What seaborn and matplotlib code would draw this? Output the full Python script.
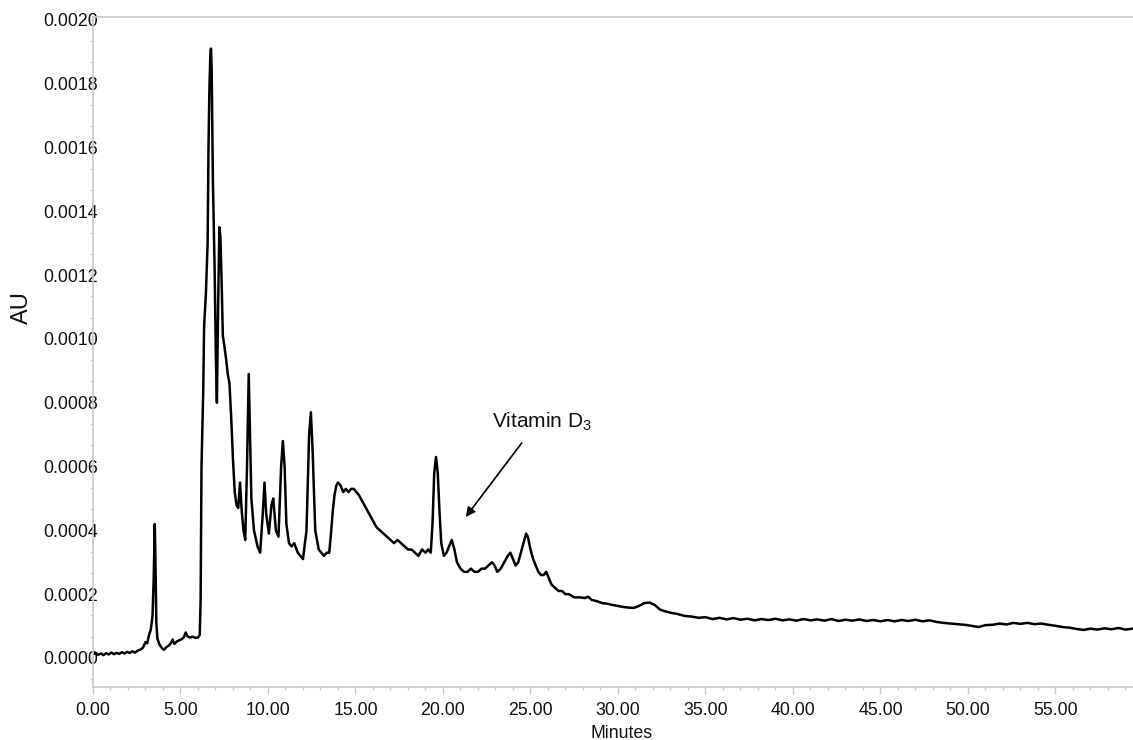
import matplotlib
matplotlib.use("Agg")
import matplotlib.pyplot as plt
from matplotlib.ticker import MultipleLocator, FormatStrFormatter
import seaborn as sns
import pandas as pd

# Retention time (minutes), ten samples per row
minutes = [
    0.0, 0.15, 0.3, 0.45, 0.6, 0.75, 0.9, 1.05, 1.2, 1.35,
    1.5, 1.65, 1.8, 1.95, 2.1, 2.25, 2.4, 2.55, 2.7, 2.85,
    3.0, 3.1, 3.2, 3.3, 3.4, 3.47, 3.53, 3.57, 3.62, 3.68,
    3.8, 3.95, 4.05, 4.2, 4.35, 4.45, 4.55, 4.65, 4.8, 4.95,
    5.1, 5.2, 5.3, 5.4, 5.55, 5.7, 5.85, 6.0, 6.1, 6.15,
    6.2, 6.3, 6.35, 6.45, 6.55, 6.6, 6.65, 6.7, 6.74, 6.78,
    6.85, 6.95, 7.02, 7.08, 7.15, 7.22, 7.28, 7.35, 7.42, 7.5,
    7.6, 7.7, 7.8, 7.9, 8.0, 8.1, 8.2, 8.3, 8.4, 8.5,
    8.6, 8.7, 8.8, 8.9, 8.97, 9.05, 9.2, 9.4, 9.55, 9.7,
    9.8, 9.9, 10.05, 10.2, 10.3, 10.45, 10.6, 10.75, 10.85, 10.95,
    11.05, 11.2, 11.35, 11.5, 11.7, 11.85, 12.0, 12.2, 12.35, 12.45,
    12.55, 12.7, 12.9, 13.05, 13.2, 13.35, 13.5, 13.6, 13.7, 13.8,
    13.9, 14.0, 14.15, 14.3, 14.45, 14.6, 14.75, 14.9, 15.05, 15.2,
    15.4, 15.6, 15.8, 16.0, 16.2, 16.4, 16.6, 16.8, 17.0, 17.2,
    17.4, 17.6, 17.8, 18.0, 18.2, 18.4, 18.6, 18.8, 19.0, 19.15,
    19.3, 19.4, 19.5, 19.6, 19.7, 19.8, 19.9, 20.05, 20.2, 20.35,
    20.5, 20.65, 20.8, 21.0, 21.2, 21.4, 21.6, 21.8, 22.0, 22.2,
    22.4, 22.6, 22.8, 22.95, 23.1, 23.3, 23.5, 23.7, 23.85, 24.0,
    24.15, 24.3, 24.45, 24.6, 24.75, 24.85, 25.0, 25.15, 25.3, 25.45,
    25.6, 25.75, 25.9, 26.05, 26.2, 26.4, 26.6, 26.8, 27.0, 27.2,
    27.5, 27.8, 28.1, 28.3, 28.5, 28.8, 29.1, 29.4, 29.7, 30.0,
    30.3, 30.6, 30.9, 31.2, 31.5, 31.8, 32.1, 32.4, 32.7, 33.0,
    33.4, 33.8, 34.2, 34.6, 35.0, 35.4, 35.8, 36.2, 36.6, 37.0,
    37.4, 37.8, 38.2, 38.6, 39.0, 39.4, 39.8, 40.2, 40.6, 41.0,
    41.4, 41.8, 42.2, 42.6, 43.0, 43.4, 43.8, 44.2, 44.6, 45.0,
    45.4, 45.8, 46.2, 46.6, 47.0, 47.4, 47.8, 48.2, 48.6, 49.0,
    49.4, 49.8, 50.2, 50.6, 51.0, 51.4, 51.8, 52.2, 52.6, 53.0,
    53.4, 53.8, 54.2, 54.6, 55.0, 55.4, 55.8, 56.2, 56.6, 57.0,
    57.4, 57.8, 58.2, 58.6, 59.0, 59.4,
]

# Detector response (AU) at each retention time above
absorbance = [
    0.000012, 0.000016, 0.000010, 0.000014, 0.000009, 0.000015, 0.000011, 0.000017, 0.000012, 0.000016,
    0.000013, 0.000018, 0.000014, 0.000019, 0.000016, 0.000021, 0.000017, 0.000023, 0.000026, 0.000032,
    0.000050, 0.000046, 0.000072, 0.000088, 0.000130, 0.000250, 0.000420, 0.000300, 0.000110, 0.000060,
    0.000042, 0.000030, 0.000026, 0.000034, 0.000040, 0.000046, 0.000058, 0.000044, 0.000052, 0.000056,
    0.000060, 0.000066, 0.000080, 0.000068, 0.000064, 0.000067, 0.000063, 0.000064, 0.000072, 0.000180,
    0.00060, 0.00084, 0.00104, 0.00114, 0.00130, 0.00160, 0.00178, 0.00188, 0.00191, 0.00185,
    0.00150, 0.00122, 0.00095, 0.00080, 0.00110, 0.00135, 0.00132, 0.00118, 0.00101, 0.00098,
    0.00094, 0.00089, 0.00086, 0.00075, 0.00062, 0.00052, 0.00048, 0.00047, 0.00055, 0.00046,
    0.00040, 0.00037, 0.00060, 0.00089, 0.00070, 0.00050, 0.00040, 0.00035, 0.00033, 0.00045,
    0.00055, 0.00045, 0.00039, 0.00048, 0.00050, 0.00040, 0.00038, 0.00060, 0.00068, 0.00060,
    0.00042, 0.00036, 0.00035, 0.00036, 0.00033, 0.00032, 0.00031, 0.00040, 0.00070, 0.00077,
    0.00065, 0.00040, 0.00034, 0.00033, 0.00032, 0.00033, 0.00033, 0.00039, 0.00046, 0.00051,
    0.00054, 0.00055, 0.00054, 0.00052, 0.00053, 0.00052, 0.00053, 0.00053, 0.00052, 0.00051,
    0.00049, 0.00047, 0.00045, 0.00043, 0.00041, 0.00040, 0.00039, 0.00038, 0.00037, 0.00036,
    0.00037, 0.00036, 0.00035, 0.00034, 0.00034, 0.00033, 0.00032, 0.00034, 0.00033, 0.00034,
    0.00033, 0.00042, 0.00058, 0.00063, 0.00058, 0.00046, 0.00036, 0.00032, 0.00033, 0.00035,
    0.00037, 0.00034, 0.00030, 0.00028, 0.00027, 0.00027, 0.00028, 0.00027, 0.00027, 0.00028,
    0.00028, 0.00029, 0.00030, 0.00029, 0.00027, 0.00028, 0.00030, 0.00032, 0.00033, 0.00031,
    0.00029, 0.00030, 0.00033, 0.00036, 0.00039, 0.00038, 0.00034, 0.00031, 0.00029, 0.00027,
    0.00026, 0.00026, 0.00027, 0.00025, 0.00023, 0.00022, 0.00021, 0.00021, 0.00020, 0.00020,
    0.00019, 0.00019, 0.000188, 0.000192, 0.000182, 0.000178, 0.000172, 0.000170, 0.000166, 0.000163,
    0.000160, 0.000158, 0.000157, 0.000163, 0.000172, 0.000174, 0.000166, 0.000152, 0.000146, 0.000142,
    0.000138, 0.000132, 0.000130, 0.000126, 0.000128, 0.000122, 0.000126, 0.000121, 0.000125, 0.000120,
    0.000123, 0.000118, 0.000122, 0.000119, 0.000123, 0.000118, 0.000121, 0.000117, 0.000122, 0.000118,
    0.000121, 0.000117, 0.000122, 0.000116, 0.000120, 0.000117, 0.000121, 0.000116, 0.000119, 0.000115,
    0.000119, 0.000115, 0.000119, 0.000116, 0.000120, 0.000115, 0.000118, 0.000113, 0.000110, 0.000108,
    0.000106, 0.000104, 0.000101, 0.000097, 0.000103, 0.000104, 0.000108, 0.000105, 0.000110, 0.000107,
    0.000110, 0.000106, 0.000108, 0.000104, 0.000101, 0.000097, 0.000095, 0.000091, 0.000088, 0.000092,
    0.000089, 0.000093, 0.000090, 0.000094, 0.000089, 0.000092,
]

peak_label = "Vitamin D$_3$"
peak_text_at = (22.8, 0.000721)
arrow_tail = (24.5, 0.000674)
arrow_head = (21.3, 0.000442)

sns.set_style("white")
plt.rcParams["font.family"] = ["Liberation Sans", "DejaVu Sans"]
plt.rcParams["mathtext.fontset"] = "custom"
plt.rcParams["mathtext.rm"] = "Liberation Sans"
plt.rcParams["mathtext.it"] = "Liberation Sans"

df = pd.DataFrame({"Minutes": minutes, "AU": absorbance})

fig = plt.figure(figsize=(11.33, 7.40), dpi=100)
ax = fig.add_axes([93 / 1133, 53 / 740, 1040 / 1133, 670 / 740])

sns.lineplot(data=df, x="Minutes", y="AU", ax=ax, color="black",
             linewidth=1.8, estimator=None, sort=False)

ax.set_xlim(0, 59.43)
ax.set_ylim(-0.0000909, 0.002009)

grey = "#c8c8c8"
for side in ("left", "bottom", "top"):
    ax.spines[side].set_color(grey)
    ax.spines[side].set_linewidth(1.2)
ax.spines["right"].set_visible(False)

ax.xaxis.set_major_locator(MultipleLocator(5))
ax.xaxis.set_minor_locator(MultipleLocator(1))
ax.xaxis.set_major_formatter(FormatStrFormatter("%.2f"))
ax.yaxis.set_major_locator(MultipleLocator(0.0002))
ax.yaxis.set_minor_locator(MultipleLocator(0.0002 / 3))
ax.yaxis.set_major_formatter(FormatStrFormatter("%.4f"))

ax.tick_params(axis="x", which="major", direction="out", length=5, width=1,
               color=grey, pad=5.5, labelsize=12.8, labelcolor="#111111",
               bottom=True, top=False)
ax.tick_params(axis="x", which="minor", direction="out", length=2.5, width=1,
               color=grey, bottom=True, top=False)
ax.tick_params(axis="y", which="major", direction="out", length=2.5, width=1,
               color=grey, pad=-6.3, labelsize=12.8, labelcolor="#111111",
               left=True, right=False)
ax.tick_params(axis="y", which="minor", direction="out", length=2.5, width=1,
               color=grey, left=True, right=False)

ax.set_xlabel("Minutes", fontsize=12.8, color="#111111")
ax.set_ylabel("AU", fontsize=17, color="#111111")
ax.xaxis.set_label_coords(0.508, -0.056)
ax.yaxis.set_label_coords(-0.058, 0.567)

ax.annotate("", xy=arrow_head, xytext=arrow_tail,
            arrowprops=dict(arrowstyle="-|>", color="black", lw=1.2,
                            mutation_scale=14, shrinkA=0, shrinkB=0))
ax.text(peak_text_at[0], peak_text_at[1], peak_label, fontsize=15,
        color="#111111", va="baseline", ha="left")

fig.savefig("out.png", dpi=100)
